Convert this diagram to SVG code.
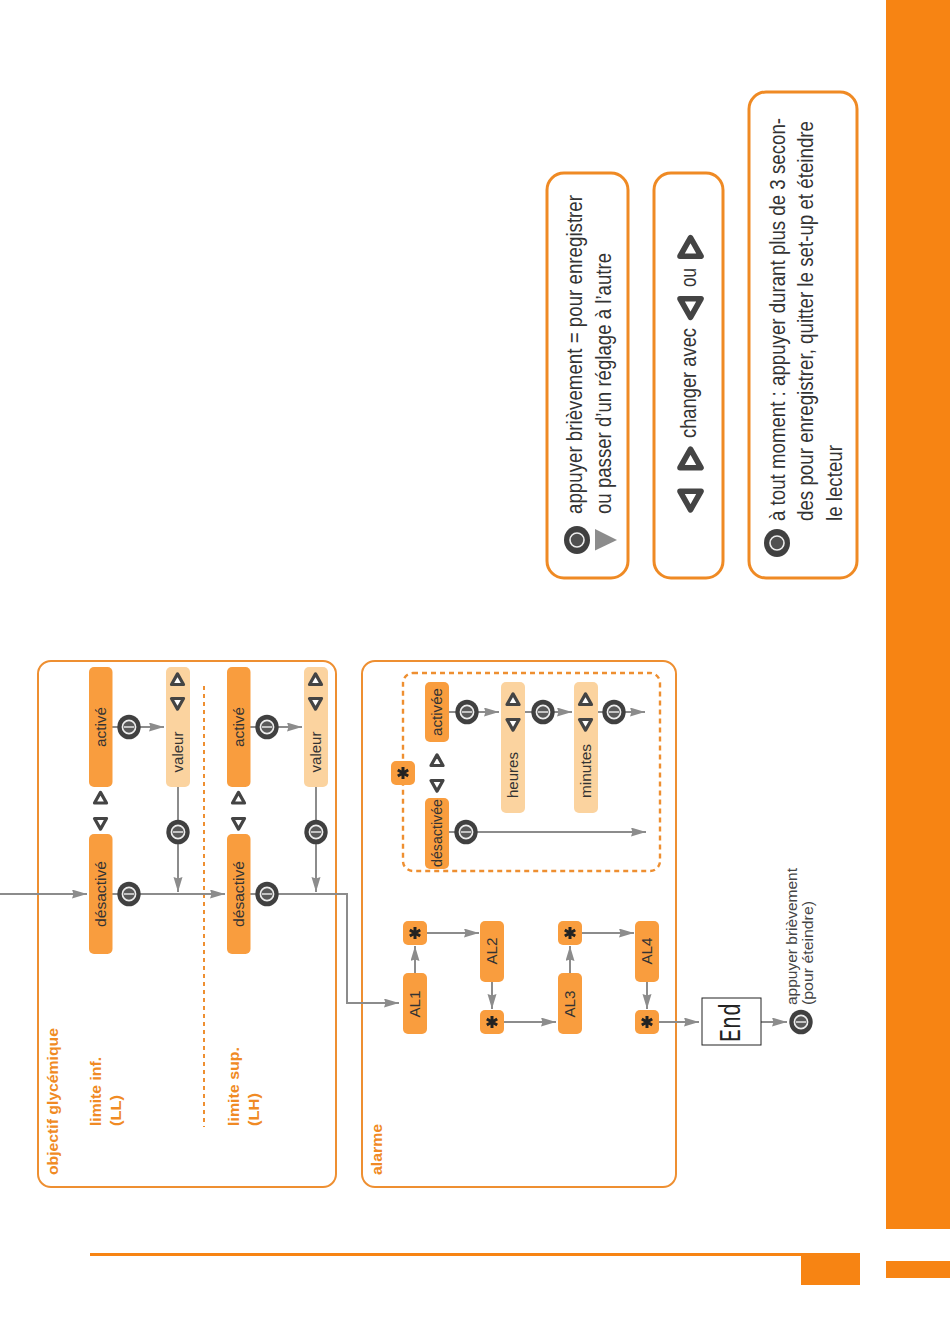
<svg xmlns="http://www.w3.org/2000/svg" xmlns:xlink="http://www.w3.org/1999/xlink" width="950" height="1339" viewBox="0 0 950 1339">
<style>
.page{fill:#f78413}
.panel{fill:#fff;stroke:#ee8f31;stroke-width:2}
.legend{fill:#fff;stroke:#ef8a24;stroke-width:3}
.dash{fill:none;stroke:#ee8f31;stroke-width:2.4;stroke-dasharray:5 4}
.n{fill:#f99d3e}
.v{fill:#fbd39f}
.c{fill:none;stroke:#8c8c8c;stroke-width:2;marker-end:url(#arr)}
.t{font-family:"Liberation Sans",Arial,sans-serif;font-size:15px;fill:#333;text-anchor:middle}
.h{font-family:"Liberation Sans",Arial,sans-serif;font-size:15px;font-weight:bold;fill:#f08a24}
.s{font-family:"Liberation Sans",Arial,sans-serif;font-size:14px;fill:#444}
.l{font-family:"Liberation Sans Narrow","Liberation Sans",Arial,sans-serif;font-size:22px;fill:#333}
.e{font-family:"Liberation Mono",monospace;font-size:30px;fill:#222}
</style>
<defs>
<marker id="arr" markerUnits="userSpaceOnUse" markerWidth="16" markerHeight="10" refX="15" refY="4.5" orient="auto"><path d="M0,0 L15,4.5 L0,9 L1.5,4.5 Z" fill="#8c8c8c"/></marker>
<g id="btn"><ellipse rx="11.7" ry="12.3" fill="#404040"/><circle r="6.6" fill="#5a5a5a" stroke="#eee" stroke-width="1.6"/><rect x="-5" y="-0.8" width="10" height="1.6" fill="#ddd"/></g>
<g id="btnL"><ellipse rx="13" ry="14" fill="#404040"/><circle r="7" fill="#505050" stroke="#eee" stroke-width="1.6"/></g>
<path id="up" d="M0,-5.6 L6,5 L-6,5 Z" fill="#fff" stroke="#444" stroke-width="3.2" stroke-linejoin="round"/>
<path id="down" d="M0,5.6 L6,-5 L-6,-5 Z" fill="#fff" stroke="#444" stroke-width="3.2" stroke-linejoin="round"/>
<g id="star" stroke="#222" stroke-width="3" stroke-linecap="butt"><path d="M0,-6V6M-5.2,-3L5.2,3M-5.2,3L5.2,-3"/></g>
</defs>

<g id="page">
<rect class="page" x="886" y="0" width="64" height="1229"/>
<rect class="page" x="886" y="1261" width="64" height="17"/>
<rect class="page" x="90" y="1253" width="712" height="3"/>
<rect class="page" x="801" y="1253" width="59" height="32"/>
</g>

<g id="panel-objectif">
<rect class="panel" x="38" y="661" width="298" height="526" rx="13"/>
<path d="M204,686V1127" fill="none" stroke="#ee8f31" stroke-width="2" stroke-dasharray="4 4"/>
<text class="h" transform="translate(58,1175) rotate(-90)" textLength="147" lengthAdjust="spacingAndGlyphs">objectif glycémique</text>
<text class="h" transform="translate(101,1126) rotate(-90)" textLength="69" lengthAdjust="spacingAndGlyphs">limite inf.</text>
<text class="h" transform="translate(121,1126) rotate(-90)" textLength="31" lengthAdjust="spacingAndGlyphs">(LL)</text>
<text class="h" transform="translate(239,1126) rotate(-90)" textLength="79" lengthAdjust="spacingAndGlyphs">limite sup.</text>
<text class="h" transform="translate(259,1126) rotate(-90)" textLength="33" lengthAdjust="spacingAndGlyphs">(LH)</text>
</g>
<g id="panel-alarme">
<rect class="panel" x="362" y="661" width="314" height="526" rx="13"/>
<rect class="dash" x="403" y="673" width="257" height="198" rx="10"/>
<text class="h" transform="translate(382,1175) rotate(-90)" textLength="51" lengthAdjust="spacingAndGlyphs">alarme</text>
</g>

<g id="connectors">
<path class="c" d="M0,894H87"/>
<path class="c" d="M112,894H225"/>
<path class="c" d="M112,727H164"/>
<path class="c" d="M178,787V892"/>
<path class="c" d="M250,727H302"/>
<path class="c" d="M316,787V892"/>
<path class="c" d="M250,894H347V1003H399"/>
<path class="c" d="M449,712H499"/>
<path class="c" d="M525,712H572"/>
<path class="c" d="M597,712H645"/>
<path class="c" d="M449,832H646"/>
<path class="c" d="M415,973V946"/>
<path class="c" d="M427,933H479"/>
<path class="c" d="M492,982V1009"/>
<path class="c" d="M504,1022H556"/>
<path class="c" d="M570,973V946"/>
<path class="c" d="M582,933H634"/>
<path class="c" d="M647,982V1009"/>
<path class="c" d="M659,1022H699"/>
<path class="c" d="M761,1022H787"/>
<path class="c" d="M590,540H617" style="stroke-width:2;marker-end:none"/>
</g>

<g id="n-desactive-ll"><rect class="n" x="89" y="834" width="23.5" height="120" rx="5"/><text class="t" transform="translate(105.500,894) rotate(-90)" textLength="66" lengthAdjust="spacingAndGlyphs">désactivé</text></g>
<g id="n-active-ll"><rect class="n" x="89" y="667" width="23.5" height="120" rx="5"/><text class="t" transform="translate(105.500,727) rotate(-90)" textLength="40" lengthAdjust="spacingAndGlyphs">activé</text></g>
<g id="n-valeur-ll"><rect class="v" x="166" y="667" width="24" height="120" rx="5"/><text class="t" transform="translate(183,752) rotate(-90)" textLength="41" lengthAdjust="spacingAndGlyphs">valeur</text><use xlink:href="#up" href="#up" x="177.500" y="679.500"/><use href="#down" x="177.500" y="703.500"/></g>
<g id="n-desactive-lh"><rect class="n" x="227" y="834" width="23.5" height="120" rx="5"/><text class="t" transform="translate(243.500,894) rotate(-90)" textLength="66" lengthAdjust="spacingAndGlyphs">désactivé</text></g>
<g id="n-active-lh"><rect class="n" x="227" y="667" width="23.5" height="120" rx="5"/><text class="t" transform="translate(243.500,727) rotate(-90)" textLength="40" lengthAdjust="spacingAndGlyphs">activé</text></g>
<g id="n-valeur-lh"><rect class="v" x="304" y="667" width="24" height="120" rx="5"/><text class="t" transform="translate(321,752) rotate(-90)" textLength="41" lengthAdjust="spacingAndGlyphs">valeur</text><use href="#up" x="315.500" y="679.500"/><use href="#down" x="315.500" y="703.500"/></g>
<g id="toggle-ll"><use href="#up" x="100.500" y="798"/><use href="#down" x="100.500" y="823.500"/></g>
<g id="toggle-lh"><use href="#up" x="238.500" y="798"/><use href="#down" x="238.500" y="823.500"/></g>
<g id="btn-1"><use href="#btn" x="129" y="727"/></g>
<g id="btn-2"><use href="#btn" x="129" y="894"/></g>
<g id="btn-3"><use href="#btn" x="178" y="832"/></g>
<g id="btn-4"><use href="#btn" x="267" y="727"/></g>
<g id="btn-5"><use href="#btn" x="267" y="894"/></g>
<g id="btn-6"><use href="#btn" x="316" y="832"/></g>

<g id="n-star-toggle"><rect class="n" x="391" y="761" width="24" height="24" rx="5"/><use href="#star" x="403" y="773"/></g>
<g id="toggle-al"><use href="#up" x="437" y="760.500"/><use href="#down" x="437" y="785.500"/></g>
<g id="n-activee"><rect class="n" x="425" y="682" width="24" height="60" rx="5"/><text class="t" transform="translate(442,712) rotate(-90)" textLength="48" lengthAdjust="spacingAndGlyphs">activée</text></g>
<g id="n-desactivee"><rect class="n" x="425" y="798" width="24" height="71" rx="5"/><text class="t" transform="translate(442,833) rotate(-90)" textLength="68" lengthAdjust="spacingAndGlyphs">désactivée</text></g>
<g id="n-heures"><rect class="v" x="501" y="682" width="24" height="131" rx="5"/><text class="t" transform="translate(518,775) rotate(-90)" textLength="46" lengthAdjust="spacingAndGlyphs">heures</text><use href="#up" x="513" y="699.500"/><use href="#down" x="513" y="724.500"/></g>
<g id="n-minutes"><rect class="v" x="574" y="682" width="24" height="131" rx="5"/><text class="t" transform="translate(591,771) rotate(-90)" textLength="54" lengthAdjust="spacingAndGlyphs">minutes</text><use href="#up" x="585.500" y="699.500"/><use href="#down" x="585.500" y="724.500"/></g>
<g id="btn-7"><use href="#btn" x="467" y="712"/></g>
<g id="btn-8"><use href="#btn" x="543" y="712"/></g>
<g id="btn-9"><use href="#btn" x="614" y="712"/></g>
<g id="btn-10"><use href="#btn" x="466" y="832"/></g>

<g id="n-al1"><rect class="n" x="403" y="973" width="24" height="61" rx="5"/><text class="t" transform="translate(420,1004) rotate(-90)" textLength="27" lengthAdjust="spacingAndGlyphs">AL1</text></g>
<g id="n-star1"><rect class="n" x="403" y="921" width="24" height="24" rx="5"/><use href="#star" x="415" y="933"/></g>
<g id="n-al2"><rect class="n" x="480" y="921" width="24" height="61" rx="5"/><text class="t" transform="translate(496.500,951) rotate(-90)" textLength="27" lengthAdjust="spacingAndGlyphs">AL2</text></g>
<g id="n-star2"><rect class="n" x="480" y="1010" width="24" height="24" rx="5"/><use href="#star" x="492" y="1022"/></g>
<g id="n-al3"><rect class="n" x="558" y="973" width="24" height="61" rx="5"/><text class="t" transform="translate(575,1004) rotate(-90)" textLength="27" lengthAdjust="spacingAndGlyphs">AL3</text></g>
<g id="n-star3"><rect class="n" x="558" y="921" width="24" height="24" rx="5"/><use href="#star" x="570" y="933"/></g>
<g id="n-al4"><rect class="n" x="635" y="921" width="24" height="61" rx="5"/><text class="t" transform="translate(652,951) rotate(-90)" textLength="27" lengthAdjust="spacingAndGlyphs">AL4</text></g>
<g id="n-star4"><rect class="n" x="635" y="1010" width="24" height="24" rx="5"/><use href="#star" x="647" y="1022"/></g>

<g id="n-end"><rect x="702" y="998" width="59" height="47" fill="#fff" stroke="#222" stroke-width="1"/><text class="e" transform="translate(740,1042) rotate(-90)" textLength="39" lengthAdjust="spacingAndGlyphs">End</text></g>
<g id="n-off"><use href="#btn" x="801" y="1022"/><text class="s" transform="translate(797,1005) rotate(-90)" textLength="137" lengthAdjust="spacingAndGlyphs">appuyer brièvement</text><text class="s" transform="translate(813,1005) rotate(-90)" textLength="104" lengthAdjust="spacingAndGlyphs">(pour éteindre)</text></g>

<g id="legend-a">
<rect class="legend" x="547" y="173" width="81" height="405" rx="17"/>
<use href="#btnL" x="577" y="540"/>
<path d="M595,529L617,540L595,550.500Z" fill="#8c8c8c"/>
<text class="l" transform="translate(582,514) rotate(-90)" textLength="319" lengthAdjust="spacingAndGlyphs">appuyer brièvement = pour enregistrer</text>
<text class="l" transform="translate(611,514) rotate(-90)" textLength="261" lengthAdjust="spacingAndGlyphs">ou passer d’un réglage à l’autre</text>
</g>
<g id="legend-b">
<rect class="legend" x="654" y="173" width="69" height="405" rx="17"/>
<use href="#down" transform="translate(690.500,500) scale(1.75)"/>
<use href="#up" transform="translate(690.500,459) scale(1.75)"/>
<text class="l" transform="translate(696,438) rotate(-90)" textLength="110" lengthAdjust="spacingAndGlyphs">changer avec</text>
<use href="#down" transform="translate(690.500,307.500) scale(1.75)"/>
<text class="l" transform="translate(696,287) rotate(-90)" textLength="19" lengthAdjust="spacingAndGlyphs">ou</text>
<use href="#up" transform="translate(690.500,247.500) scale(1.75)"/>
</g>
<g id="legend-c">
<rect class="legend" x="749" y="92" width="108" height="486" rx="17"/>
<use href="#btnL" x="777" y="543"/>
<text class="l" transform="translate(785,521) rotate(-90)" textLength="403" lengthAdjust="spacingAndGlyphs">à tout moment : appuyer durant plus de 3 secon-</text>
<text class="l" transform="translate(813,521) rotate(-90)" textLength="400" lengthAdjust="spacingAndGlyphs">des pour enregistrer, quitter le set-up et éteindre</text>
<text class="l" transform="translate(842,521) rotate(-90)" textLength="76" lengthAdjust="spacingAndGlyphs">le lecteur</text>
</g>
</svg>
